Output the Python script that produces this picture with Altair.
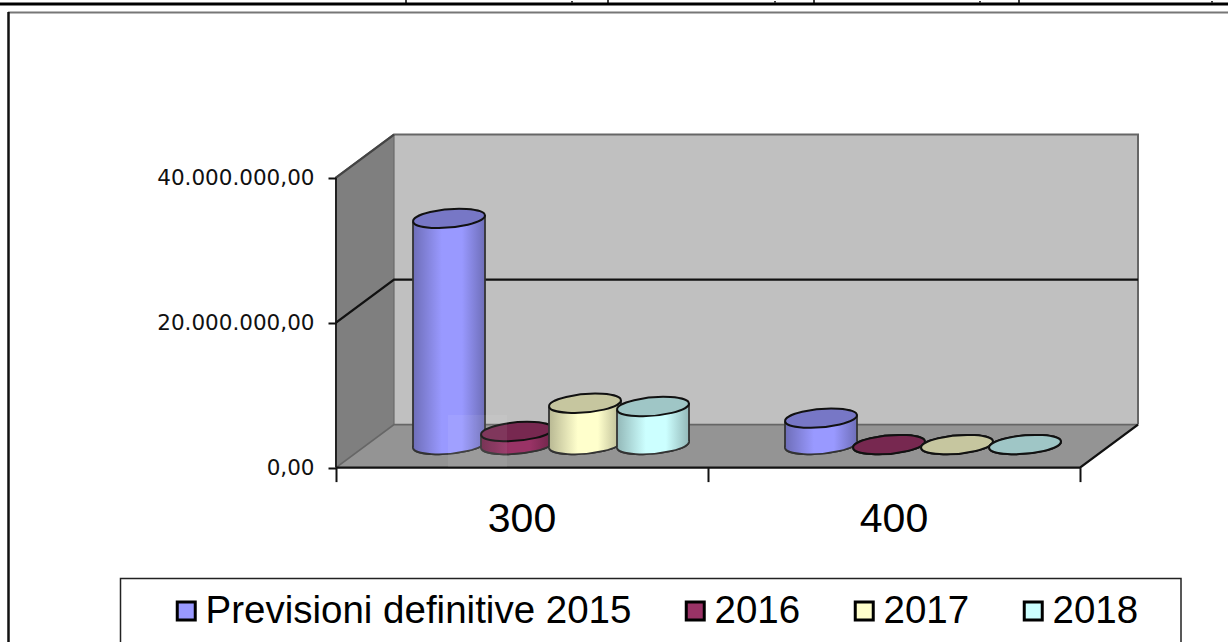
import altair as alt
import pandas as pd

# Chart values
categories = ["300", "400"]
series = ["Previsioni definitive 2015", "2016", "2017", "2018"]
values_300 = [31200000, 1800000, 5700000, 5250000]
values_400 = [3650000, 0, 0, 0]
body_colors = ["#9999FF", "#993366", "#FFFFCC", "#CCFFFF"]
shade_colors = ["#6E6EB8", "#6E2549", "#B8B893", "#93B8B8"]
cap_colors = ["#7777C6", "#772850", "#C6C69F", "#9FC6C6"]
y_ticks = [0, 20000000, 40000000]

# Scale geometry: one category band and one million units, expressed in pixels
W, H = 1228, 642
BAND_PX, MILLION_PX = 372.0, 7.25
ORIGIN_X, ORIGIN_Y = 336.0, 467.6
UNIT = 1e6 / MILLION_PX  # value units per pixel

DEPTH_X = 58 / BAND_PX
DEPTH_Y = 43 * UNIT
Y_TOP = 40000000
X_END = len(categories)

x_domain = [-ORIGIN_X / BAND_PX, (W - ORIGIN_X) / BAND_PX]
y_domain = [(ORIGIN_Y - H) * UNIT, ORIGIN_Y * UNIT]

x_axis = alt.Axis(values=[0, 1, 2], labels=False, domain=False, grid=False,
                  offset=-(H - ORIGIN_Y), tickSize=14, tickColor="#111111",
                  tickWidth=2, zindex=1)
y_axis = alt.Axis(values=y_ticks, domain=False, grid=False, offset=-ORIGIN_X,
                  tickSize=8, tickColor="#111111", tickWidth=2, zindex=1,
                  labelFont="DejaVu Sans", labelFontSize=21.5, labelColor="#111111",
                  labelPadding=14, labelOffset=1,
                  labelExpr="replace(replace(replace(format(datum.value, ',.2f'), /,/g, '#'), /[.]/g, ','), /#/g, '.')")


def X(field):
    return alt.X(field, type="quantitative", title=None, axis=x_axis,
                 scale=alt.Scale(domain=x_domain, nice=False, zero=False))


def Y(field):
    return alt.Y(field, type="quantitative", title=None, axis=y_axis,
                 scale=alt.Scale(domain=y_domain, nice=False, zero=False))


# Cylinders
FIRST = 113 / BAND_PX
STEP = 68 / BAND_PX
RADIUS = 36 / BAND_PX
TILT = 3.1 * UNIT
BASE = 23 * UNIT

rows, body_rows = [], []
for c, (cat, vals) in enumerate(zip(categories, [values_300, values_400])):
    for s, (name, v) in enumerate(zip(series, vals)):
        cx = c + FIRST + s * STEP
        top = BASE + v
        rows.append(dict(series=name, category=cat, cx=cx, top=top, base=BASE,
                         left=cx - RADIUS, right=cx + RADIUS,
                         top_l=top - TILT, base_l=BASE - TILT,
                         top_r=top + TILT, base_r=BASE + TILT))
        body_rows.append(dict(series=name, category=cat, x=cx - RADIUS, y=top - TILT, y2=BASE - TILT))
        body_rows.append(dict(series=name, category=cat, x=cx + RADIUS, y=top + TILT, y2=BASE + TILT))
cyl = pd.DataFrame(rows)
bodies = pd.DataFrame(body_rows)

ELLIPSE = "M-0.996,0.087 A1,0.25,-5,1,1,0.996,-0.087 A1,0.25,-5,1,1,-0.996,0.087 Z"
CYL_SIZE = (2 * RADIUS * BAND_PX) ** 2


def shaded(color, dark):
    return {"gradient": "linear", "x1": 0, "y1": 0, "x2": 1, "y2": 0,
            "stops": [{"offset": 0, "color": dark},
                      {"offset": 0.4, "color": color},
                      {"offset": 0.68, "color": color},
                      {"offset": 1, "color": dark}]}


color_scale = alt.Scale(domain=series, range=body_colors)
legend = alt.Legend(orient="none", legendX=167, legendY=589, columns=4, gridAlign="each",
                    title=None, symbolType="square", symbolSize=324, symbolStrokeWidth=3,
                    labelFont="Liberation Sans", labelFontSize=38.5, labelColor="black",
                    labelOffset=0, columnPadding=44, padding=0, rowPadding=0,
                    labelLimit=600, symbolStrokeColor="black", clipHeight=44)

cyl_layers = []
for name, color, dark, cap in zip(series, body_colors, shade_colors, cap_colors):
    sub = cyl[cyl.series == name]
    sub_body = bodies[bodies.series == name]
    grad = shaded(color, dark)
    cyl_layers += [
        # base, carrying the legend's colour scale
        alt.Chart(sub).mark_point(shape=ELLIPSE, size=CYL_SIZE, filled=True, opacity=1,
                                  stroke="#333333", strokeWidth=1.8)
        .encode(x=X("cx"), y=Y("base"),
                fill=alt.Fill("series:N", scale=color_scale, legend=legend)),
        alt.Chart(sub).mark_point(shape=ELLIPSE, size=CYL_SIZE, filled=True, opacity=1,
                                  fill=grad, stroke="#333333", strokeWidth=1.8)
        .encode(x=X("cx"), y=Y("base")),
        # body
        alt.Chart(sub_body).mark_area(fill=grad, opacity=1)
        .encode(x=X("x"), y=Y("y"), y2=alt.Y2("y2"), detail="category:N"),
        # silhouette edges
        alt.Chart(sub).mark_rule(color="#333333", strokeWidth=1.8)
        .encode(x=X("left"), y=Y("top_l"), y2=alt.Y2("base_l")),
        alt.Chart(sub).mark_rule(color="#333333", strokeWidth=1.8)
        .encode(x=X("right"), y=Y("top_r"), y2=alt.Y2("base_r")),
        # cap
        alt.Chart(sub).mark_point(shape=ELLIPSE, size=CYL_SIZE, filled=True, opacity=1,
                                  fill=cap, stroke="#111111", strokeWidth=2)
        .encode(x=X("cx"), y=Y("top")),
    ]

# Frame of the 3D plot
back_wall = alt.Chart(pd.DataFrame([dict(x=DEPTH_X, x2=X_END + DEPTH_X, y=DEPTH_Y, y2=Y_TOP + DEPTH_Y)]))\
    .mark_rect(fill="#C0C0C0")\
    .encode(x=X("x"), x2=alt.X2("x2"), y=Y("y"), y2=alt.Y2("y2"))

left_wall = alt.Chart(pd.DataFrame([dict(x=0, y=Y_TOP, y2=0), dict(x=DEPTH_X, y=Y_TOP + DEPTH_Y, y2=DEPTH_Y)]))\
    .mark_area(fill="#7F7F7F", opacity=1).encode(x=X("x"), y=Y("y"), y2=alt.Y2("y2"))

floor = alt.Chart(pd.DataFrame([dict(x=0, y=0, y2=0), dict(x=DEPTH_X, y=DEPTH_Y, y2=0),
                                dict(x=X_END, y=DEPTH_Y, y2=0), dict(x=X_END + DEPTH_X, y=DEPTH_Y, y2=DEPTH_Y)]))\
    .mark_area(fill="#949494", opacity=1).encode(x=X("x"), y=Y("y"), y2=alt.Y2("y2"))


def polyline(points, color, width):
    frame = pd.DataFrame([dict(order=i, x=p[0], y=p[1]) for i, p in enumerate(points)])
    return alt.Chart(frame).mark_line(color=color, strokeWidth=width).encode(
        x=X("x"), y=Y("y"), order="order:Q")


frame_lines = [
    polyline([(0, 0), (0, Y_TOP), (DEPTH_X, Y_TOP + DEPTH_Y), (X_END + DEPTH_X, Y_TOP + DEPTH_Y),
              (X_END + DEPTH_X, DEPTH_Y)], "#666666", 2),
    polyline([(0, 0), (DEPTH_X, DEPTH_Y), (X_END + DEPTH_X, DEPTH_Y)], "#666666", 1.8),
    polyline([(DEPTH_X, DEPTH_Y), (DEPTH_X, Y_TOP + DEPTH_Y)], "#6a6a6a", 1.2),
    polyline([(0, 0), (0, Y_TOP)], "#222222", 2),
    polyline([(0, Y_TOP), (DEPTH_X, Y_TOP + DEPTH_Y)], "#444444", 2),
    polyline([(0, 0), (X_END, 0), (X_END + DEPTH_X, DEPTH_Y)], "#111111", 2.4),
    polyline([(0, 20000000), (DEPTH_X, 20000000 + DEPTH_Y), (X_END + DEPTH_X, 20000000 + DEPTH_Y)], "#111111", 2.4),
]

category_labels = alt.Chart(pd.DataFrame({"x": [0.5, 1.5], "y": [-52 * UNIT] * 2, "label": categories}))\
    .mark_text(font="Liberation Sans", fontSize=41, color="black", baseline="middle", align="center")\
    .encode(x=X("x"), y=Y("y"), text="label:N")

# Enclosing boxes and the table rule above the chart
ONE = pd.DataFrame({"a": [0]})
outer_top = alt.Chart(ONE).mark_rule(color="#777777", strokeWidth=2).encode(
    x=alt.value(8), x2=alt.value(W), y=alt.value(12.5))
outer_left = alt.Chart(ONE).mark_rule(color="#111111", strokeWidth=2.5).encode(
    x=alt.value(8.5), y=alt.value(12), y2=alt.value(H))
legend_box = alt.Chart(ONE).mark_rect(fill="white", stroke="#222222", strokeWidth=1.5).encode(
    x=alt.value(120.5), x2=alt.value(1181), y=alt.value(578.5), y2=alt.value(H + 20))
table_rule = alt.Chart(ONE).mark_rule(color="black", strokeWidth=3).encode(
    x=alt.value(0), x2=alt.value(W), y=alt.value(4))
table_stubs = [
    alt.Chart(ONE).mark_rule(color="black", strokeWidth=1.5).encode(
        x=alt.value(px), y=alt.value(0), y2=alt.value(4))
    for px in (406, 608, 814, 1019)
]
table_marks = [
    alt.Chart(ONE).mark_rule(color="#444444", strokeWidth=2).encode(
        x=alt.value(px), y=alt.value(1), y2=alt.value(3))
    for px in (572, 775, 980, 1212)
]

# Pale patch lying over the first cylinder group
patch = alt.Chart(ONE).mark_rect(fill="white", opacity=0.07).encode(
    x=alt.value(448), x2=alt.value(507), y=alt.value(415), y2=alt.value(467))

chart = alt.layer(
    outer_top, outer_left, legend_box, table_rule, *table_stubs, *table_marks,
    back_wall, left_wall, floor, *frame_lines, *cyl_layers, patch, category_labels,
).properties(
    width=W, height=H, padding=0, autosize=alt.AutoSizeParams(type="none"),
    background="white",
).configure_view(stroke=None)

chart.save("out.html", embed_options={"renderer": "svg", "actions": False})
